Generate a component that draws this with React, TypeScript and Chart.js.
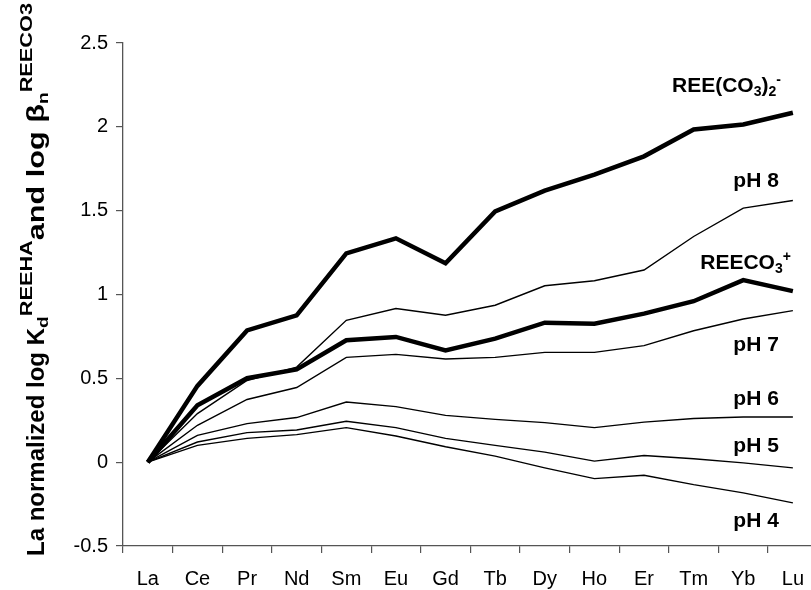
import { useEffect, useRef } from 'react';
import { Chart, registerables } from 'chart.js';

Chart.register(...registerables);

// ---- data ----
const elements = ['La', 'Ce', 'Pr', 'Nd', 'Sm', 'Eu', 'Gd', 'Tb', 'Dy', 'Ho', 'Er', 'Tm', 'Yb', 'Lu'];
const reeCO3Two = [0, 0.455, 0.786, 0.876, 1.245, 1.335, 1.186, 1.495, 1.619, 1.715, 1.824, 1.984, 2.014, 2.084];
const ph8 = [0, 0.29, 0.487, 0.567, 0.846, 0.916, 0.876, 0.936, 1.052, 1.082, 1.146, 1.346, 1.515, 1.561];
const reeCO3One = [0, 0.339, 0.501, 0.553, 0.727, 0.747, 0.667, 0.737, 0.832, 0.826, 0.886, 0.96, 1.086, 1.02];
const ph7 = [0, 0.22, 0.374, 0.445, 0.625, 0.643, 0.615, 0.625, 0.655, 0.655, 0.695, 0.784, 0.854, 0.904];
const ph6 = [0, 0.16, 0.23, 0.266, 0.359, 0.331, 0.279, 0.255, 0.236, 0.206, 0.239, 0.26, 0.269, 0.269];
const ph5 = [0, 0.12, 0.176, 0.192, 0.244, 0.206, 0.142, 0.1, 0.06, 0.006, 0.04, 0.02, -0.004, -0.034];
const ph4 = [0, 0.1, 0.142, 0.164, 0.206, 0.156, 0.092, 0.036, -0.034, -0.098, -0.078, -0.134, -0.183, -0.243];

const yTicksMin = -0.5;
const yTicksMax = 2.5;
const yTickStep = 0.5;

// series labels (rich text segments: n = normal, sub, sup) and the level they sit at
const seriesLabels = [
  [{ t: 'REE(CO', k: 'n' }, { t: '3', k: 'sub' }, { t: ')', k: 'n' }, { t: '2', k: 'sub' }, { t: '-', k: 'sup' }],
  [{ t: 'pH 8', k: 'n' }],
  [{ t: 'REECO', k: 'n' }, { t: '3', k: 'sub' }, { t: '+', k: 'sup' }],
  [{ t: 'pH 7', k: 'n' }],
  [{ t: 'pH 6', k: 'n' }],
  [{ t: 'pH 5', k: 'n' }],
  [{ t: 'pH 4', k: 'n' }],
];
const seriesLabelLevels = [2.21, 1.64, 1.15, 0.665, 0.343, 0.06, -0.385];
const seriesLabelShift = [-12, -14, -2, -14, -14, -14, -14];

const yTitleHead = [{ t: 'La normalized log K', k: 'n' }];
const yTitleTail = [
  { t: 'd', k: 'sub' },
  { t: 'REEHA', k: 'sup' },
  { t: 'and log β', k: 'n' },
  { t: 'n', k: 'sub' },
  { t: 'REECO3', k: 'sup' },
];

const FONT = '"Liberation Sans", Arial, Helvetica, sans-serif';

type Seg = { t: string; k: string };

function richWidth(ctx: CanvasRenderingContext2D, segs: Seg[], main: number, small: number, sup: number) {
  let total = 0;
  for (const s of segs) {
    ctx.font = `bold ${s.k === 'n' ? main : s.k === 'sub' ? small : sup}px ${FONT}`;
    total += ctx.measureText(s.t).width;
  }
  return total;
}

function drawRich(ctx: CanvasRenderingContext2D, segs: Seg[], x: number, y: number, main: number, small: number, sup: number, subOff: number, supOff: number, align: 'left' | 'right') {
  const total = richWidth(ctx, segs, main, small, sup);
  let cx = align === 'right' ? x - total : x;
  ctx.textBaseline = 'alphabetic';
  ctx.textAlign = 'left';
  for (const s of segs) {
    ctx.font = `bold ${s.k === 'n' ? main : s.k === 'sub' ? small : sup}px ${FONT}`;
    const dy = s.k === 'sub' ? subOff : s.k === 'sup' ? supOff : 0;
    ctx.fillText(s.t, cx, y + dy);
    cx += ctx.measureText(s.t).width;
  }
  return total;
}

const annotPlugin = {
  id: 'annot',
  afterDraw(chart: any) {
    const ctx = chart.ctx as CanvasRenderingContext2D;
    const xs = chart.scales.x;
    const ys = chart.scales.y;
    ctx.save();
    ctx.fillStyle = '#000';
    const xr = xs.getPixelForValue(elements.length - 1);
    seriesLabels.forEach((segs, i) => {
      drawRich(ctx, segs as Seg[], xr + seriesLabelShift[i], ys.getPixelForValue(seriesLabelLevels[i]), 21, 14, 14, 4, -8, 'right');
    });
    ctx.restore();

    // y-axis title, rotated; runs from the bottom of the canvas almost to its top
    ctx.save();
    ctx.fillStyle = '#000';
    const startY = 556;
    const endY = 3;
    ctx.translate(44, startY);
    ctx.rotate(-Math.PI / 2);
    const headW = drawRich(ctx, yTitleHead as Seg[], 0, 0, 24, 15, 17, 4, -12, 'left');
    const tailW = richWidth(ctx, yTitleTail as Seg[], 24, 15, 17);
    const stretch = (startY - endY - headW) / tailW;
    ctx.translate(headW, 0);
    ctx.scale(stretch, 1);
    drawRich(ctx, yTitleTail as Seg[], 0, 0, 24, 15, 17, 4, -12, 'left');
    ctx.restore();
  },
};

export default function App() {
  const ref = useRef<HTMLCanvasElement>(null);
  useEffect(() => {
    if (!ref.current) return;
    const thick = (data: number[]) => ({ data, borderColor: '#000', borderWidth: 4.5, pointRadius: 0, tension: 0, borderJoinStyle: 'miter' as const, fill: false });
    const thin = (data: number[]) => ({ data, borderColor: '#000', borderWidth: 1.4, pointRadius: 0, tension: 0, borderJoinStyle: 'miter' as const, fill: false });
    const chart = new Chart(ref.current, {
      type: 'line',
      data: {
        labels: elements,
        datasets: [thin(ph4), thin(ph5), thin(ph6), thin(ph7), thin(ph8), thick(reeCO3One), thick(reeCO3Two)],
      },
      options: {
        animation: false,
        responsive: false,
        devicePixelRatio: 1,
        layout: { padding: { left: 0, right: 0, top: 43, bottom: 0 } },
        plugins: { legend: { display: false }, tooltip: { enabled: false } },
        scales: {
          x: {
            type: 'category',
            offset: true,
            grid: { drawOnChartArea: false, drawTicks: true, tickLength: 7, color: '#555', offset: true, lineWidth: 1.2 },
            border: { display: true, color: '#555', width: 1.3 },
            ticks: { color: '#000', font: { family: FONT, size: 20 }, padding: 14, maxRotation: 0, autoSkip: false },
            afterFit: (s: any) => { s.height = 44; },
          },
          y: {
            min: yTicksMin,
            max: yTicksMax,
            grid: { drawOnChartArea: false, drawTicks: true, tickLength: 7, color: '#555', lineWidth: 1.2 },
            border: { display: true, color: '#555', width: 1.3 },
            ticks: {
              stepSize: yTickStep,
              color: '#000',
              font: { family: FONT, size: 20 },
              padding: 8,
              callback: (v: any) => String(Math.round(Number(v) * 10) / 10),
            },
            afterFit: (s: any) => { s.width = 123; },
          },
        },
      },
      plugins: [annotPlugin],
    });
    return () => chart.destroy();
  }, []);
  return (
    <div style={{ position: 'absolute', left: 0, top: 0, width: 811, height: 590, overflow: 'hidden', background: '#fff' }}>
      <canvas ref={ref} width={818} height={590} style={{ display: 'block' }} />
    </div>
  );
}
